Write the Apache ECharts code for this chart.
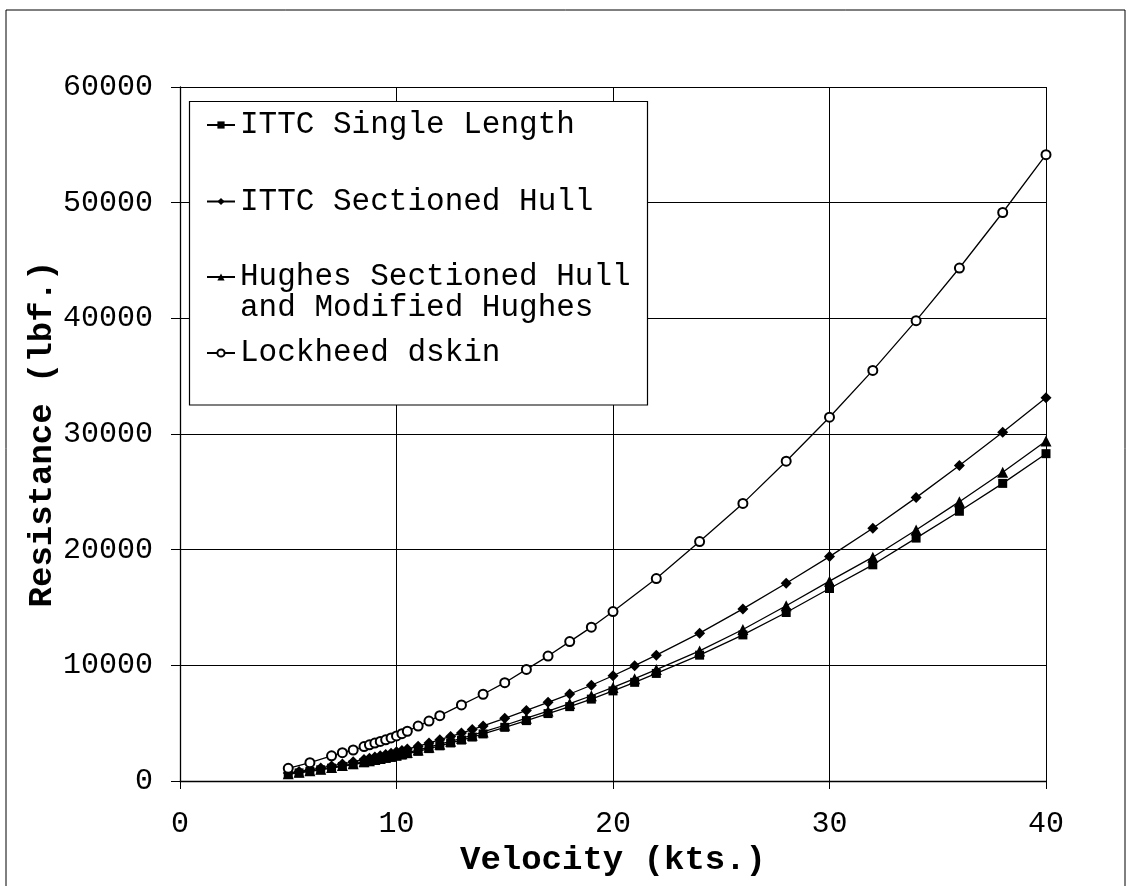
<!DOCTYPE html>
<html>
<head>
<meta charset="utf-8">
<script src="https://cdn.jsdelivr.net/npm/echarts@6/dist/echarts.min.js"></script>
<style>html,body{margin:0;padding:0;background:#fff}#chart{width:1127px;height:886px}</style>
</head>
<body>
<div id="chart"></div>
<script>
const seriesNames = ['ITTC Single Length', 'ITTC Sectioned Hull', 'Hughes Sectioned Hull\nand Modified Hughes', 'Lockheed dskin'];
const velocityFilled = [5,5.5,6,6.5,7,7.5,8,8.5,8.75,9,9.25,9.5,9.75,10,10.25,10.5,11,11.5,12,12.5,13,13.5,14,15,16,17,18,19,20,21,22,24,26,28,30,32,34,36,38,40];
const ittcSingle = [590,700,830,970,1110,1260,1420,1590,1680,1770,1860,1960,2050,2150,2250,2360,2570,2800,3040,3290,3540,3800,4070,4640,5220,5830,6430,7080,7790,8530,9300,10880,12630,14570,16640,18690,21000,23320,25730,28300];
const ittcSectioned = [690,820,970,1130,1300,1480,1660,1860,1960,2070,2180,2290,2400,2520,2640,2760,3010,3280,3570,3850,4140,4450,4760,5420,6100,6800,7520,8280,9100,9970,10880,12780,14880,17100,19400,21850,24500,27280,30150,33130];
const hughes = [630,750,880,1020,1170,1330,1490,1670,1760,1850,1950,2050,2150,2250,2350,2460,2680,2920,3180,3430,3690,3960,4240,4820,5430,6050,6690,7370,8090,8850,9630,11250,13100,15150,17280,19350,21700,24150,26700,29400];
const velocityLockheed = [5,6,7,7.5,8,8.5,8.75,9,9.25,9.5,9.75,10,10.25,10.5,11,11.5,12,13,14,15,16,17,18,19,20,22,24,26,28,30,32,34,36,38,40];
const lockheed = [1100,1580,2180,2450,2680,2980,3130,3280,3420,3560,3720,3900,4090,4300,4750,5180,5650,6580,7500,8500,9650,10800,12050,13300,14650,17500,20700,24000,27650,31450,35500,39800,44350,49150,54150];
const xTicks = [0, 40, 10];
const yTicks = [0, 60000, 10000];

const FONT = '"Liberation Mono", "Courier New", monospace';
function pairs(xs, ys) { return xs.map((x, i) => [x, ys[i]]); }

const chart = echarts.init(document.getElementById('chart'), null, {renderer: 'canvas'});

function mkSeries(name, data, symbol, size, filled) {
  return {
    name: name,
    type: 'line',
    data: data,
    symbol: symbol,
    symbolSize: size,
    showAllSymbol: true,
    smooth: false,
    lineStyle: {color: '#000', width: 1.3},
    itemStyle: filled ? {color: '#000'} : {color: '#fff', borderColor: '#000', borderWidth: 2},
    emphasis: {disabled: true},
    animation: false,
    z: 3
  };
}

const legendTops = [109.5, 186, 230.5, 337.5];
const legends = seriesNames.map((n, i) => ({
  data: [n],
  orient: 'vertical',
  left: 206,
  top: legendTops[i],
  padding: 0,
  itemWidth: 28,
  itemHeight: 9,
  itemGap: 0,
  selectedMode: false,
  z: 20,
  formatter: i === 2 ? (name => ' \n' + name) : (name => name),
  textStyle: {
    fontFamily: FONT, fontSize: 31, color: '#000', lineHeight: 31
  }
}));

const option = {
  backgroundColor: '#fff',
  animation: false,
  grid: {left: 180, top: 87, width: 866, height: 694, containLabel: false},
  legend: legends,
  graphic: [
    {type: 'rect', shape: {x: 6, y: 10, width: 1119, height: 900}, style: {fill: 'none', stroke: '#000', lineWidth: 1}, z: 0, silent: true},
    {type: 'rect', shape: {x: 189.5, y: 101.5, width: 458, height: 303.5}, style: {fill: '#fff', stroke: '#000', lineWidth: 1.2}, z: 10, silent: true}
  ],
  xAxis: {
    type: 'value', min: xTicks[0], max: xTicks[1], interval: xTicks[2],
    name: 'Velocity (kts.)', nameLocation: 'middle', nameGap: 62, nameMoveOverlap: false,
    nameTextStyle: {fontFamily: FONT, fontSize: 34, fontWeight: 'bold', color: '#000'},
    axisLine: {show: true, lineStyle: {color: '#000', width: 1.3}},
    axisTick: {show: true, inside: false, length: 8, lineStyle: {color: '#000'}},
    axisLabel: {fontFamily: FONT, fontSize: 30, color: '#000', margin: 28},
    splitLine: {show: true, lineStyle: {color: '#000', width: 1}}
  },
  yAxis: {
    type: 'value', min: yTicks[0], max: yTicks[1], interval: yTicks[2],
    name: 'Resistance (lbf.)', nameLocation: 'middle', nameGap: 121, nameMoveOverlap: false,
    nameTextStyle: {fontFamily: FONT, fontSize: 34, fontWeight: 'bold', color: '#000'},
    axisLine: {show: true, lineStyle: {color: '#000', width: 1.3}},
    axisTick: {show: true, inside: false, length: 9, lineStyle: {color: '#000'}},
    axisLabel: {fontFamily: FONT, fontSize: 30, color: '#000', margin: 27, formatter: v => String(v)},
    splitLine: {show: true, lineStyle: {color: '#000', width: 1}}
  },
  series: [
    mkSeries(seriesNames[0], pairs(velocityFilled, ittcSingle), 'rect', 9, true),
    mkSeries(seriesNames[1], pairs(velocityFilled, ittcSectioned), 'diamond', 11, true),
    mkSeries(seriesNames[2], pairs(velocityFilled, hughes), 'triangle', 11, true),
    mkSeries(seriesNames[3], pairs(velocityLockheed, lockheed), 'circle', 9, false)
  ]
};
chart.setOption(option);
</script>
</body>
</html>
